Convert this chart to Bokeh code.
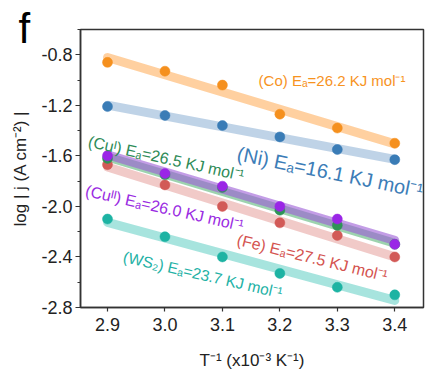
import numpy as np
from bokeh.plotting import figure
from bokeh.models import FixedTicker, PrintfTickFormatter, Range1d, Label
from bokeh.embed import file_html
from bokeh.resources import INLINE

# ---- data ----
x_vals = [2.9, 3.0, 3.1, 3.2, 3.3, 3.4]
co = [-0.86, -0.93, -1.04, -1.27, -1.38, -1.50]
ni = [-1.21, -1.28, -1.36, -1.45, -1.55, -1.63]
cu1 = [-1.62, -1.75, -1.85, -2.03, -2.15, -2.30]
cu2 = [-1.60, -1.74, -1.84, -2.00, -2.10, -2.30]
fe = [-1.67, -1.83, -2.00, -2.13, -2.23, -2.40]
ws2 = [-2.10, -2.24, -2.40, -2.53, -2.64, -2.70]

y_ticks = [-2.8, -2.4, -2.0, -1.6, -1.2, -0.8]
y_minor = [-2.6, -2.2, -1.8, -1.4, -1.0, -0.6]
x_ticks = [2.9, 3.0, 3.1, 3.2, 3.3, 3.4]

FONT = "Liberation Sans"

series = [
    # name, data, dot color, line color, line alpha, label, label x, label y, angle, font size
    ("WS2", ws2, "#1DB3A3", "#3CC4B6", 0.45, "(WS₂) Eₐ=23.7 KJ mol⁻¹", 2.928, -2.396, -13.0, "15.5px"),
    ("Fe", fe, "#D25A57", "#E08A86", 0.45, "(Fe) Eₐ=27.5 KJ mol⁻¹", 3.126, -2.261, -13.8, "16px"),
    ("CuI", cu1, "#2E9457", "#4CAF6E", 0.55, "(Cuᴵ) Eₐ=26.5 KJ mol⁻¹", 2.867, -1.485, -12.5, "16px"),
    ("CuII", cu2, "#9A26E6", "#9B5BD6", 0.6, "(Cuᴵᴵ) Eₐ=26.0 KJ mol⁻¹", 2.862, -1.873, -12.7, "16px"),
    ("Ni", ni, "#3A7CB6", "#7FA8CF", 0.5, "(Ni) Eₐ=16.1 KJ mol⁻¹", 3.126, -1.58, -11.5, "20px"),
    ("Co", co, "#F5901E", "#FFB160", 0.6, "(Co) Eₐ=26.2 KJ mol⁻¹", 3.163, -1.0, 0.0, "15px"),
]
text_colors = {"WS2": "#22B1A5", "Fe": "#D4534F", "CuI": "#2E8B57", "CuII": "#9A2BE2",
               "Ni": "#3C7DB7", "Co": "#F7931E"}

p = figure(width=432, height=383, output_backend="svg", toolbar_location=None,
           x_range=Range1d(2.853, 3.45), y_range=Range1d(-2.8, -0.6),
           min_border_left=80, min_border_right=9, min_border_top=29, min_border_bottom=76,
           title="f")
p.title.text_font = FONT
p.title.text_font_size = "42px"
p.title.text_font_style = "normal"
p.title.text_color = "black"
p.title.align = "left"
p.title.offset = -62
p.title.standoff = -44
p.grid.visible = False
p.background_fill_color = "white"
p.border_fill_color = "white"
p.outline_line_color = "#333333"
p.outline_line_width = 1.5

for name, ys, dc, lc, la, lab, lx, ly, ang, fs in series:
    k, b = np.polyfit(x_vals, ys, 1)
    xs_fit = [x_vals[0], x_vals[-1]]
    ys_fit = [k * xx + b for xx in xs_fit]
    p.line(xs_fit, ys_fit, line_color=lc, line_width=9, line_alpha=la, line_cap="round")

for name, ys, dc, lc, la, lab, lx, ly, ang, fs in series:
    p.scatter(x_vals, ys, size=10, fill_color=dc, line_color=dc, line_width=0.5)

for name, ys, dc, lc, la, lab, lx, ly, ang, fs in series:
    p.add_layout(Label(x=lx, y=ly, text=lab, angle=ang, angle_units="deg",
                       text_color=text_colors[name], text_font=FONT, text_font_size=fs,
                       text_align="left", text_baseline="middle"))

for ax in (p.xaxis[0], p.yaxis[0]):
    ax.axis_line_color = "#333333"
    ax.axis_line_width = 1.5
    ax.major_tick_line_color = "#333333"
    ax.minor_tick_line_color = "#333333"
    ax.major_tick_line_width = 1.2
    ax.minor_tick_line_width = 1.2
    ax.major_tick_in = 0
    ax.minor_tick_in = 0
    ax.major_label_text_font = FONT
    ax.major_label_text_font_size = "18px"
    ax.major_label_text_color = "#222222"
    ax.axis_label_text_font = FONT
    ax.axis_label_text_font_size = "17px"
    ax.axis_label_text_font_style = "normal"
    ax.axis_label_text_color = "#222222"

p.yaxis.ticker = FixedTicker(ticks=y_ticks, minor_ticks=y_minor)
p.xaxis.ticker = FixedTicker(ticks=x_ticks, minor_ticks=[])
p.yaxis.formatter = PrintfTickFormatter(format="%.1f")
p.xaxis.formatter = PrintfTickFormatter(format="%.1f")
p.yaxis.major_tick_out = 5
p.yaxis.minor_tick_out = 3
p.xaxis.major_tick_out = 4
p.xaxis.minor_tick_out = 0
p.yaxis.major_label_standoff = 3
p.xaxis.major_label_standoff = 6
p.yaxis.axis_label = "log | j (A cm⁻²) |"
p.xaxis.axis_label = "T⁻¹ (x10⁻³ K⁻¹)"
p.yaxis.axis_label_standoff = 8
p.xaxis.axis_label_standoff = 17

open("out.html", "w").write(file_html(p, INLINE))
